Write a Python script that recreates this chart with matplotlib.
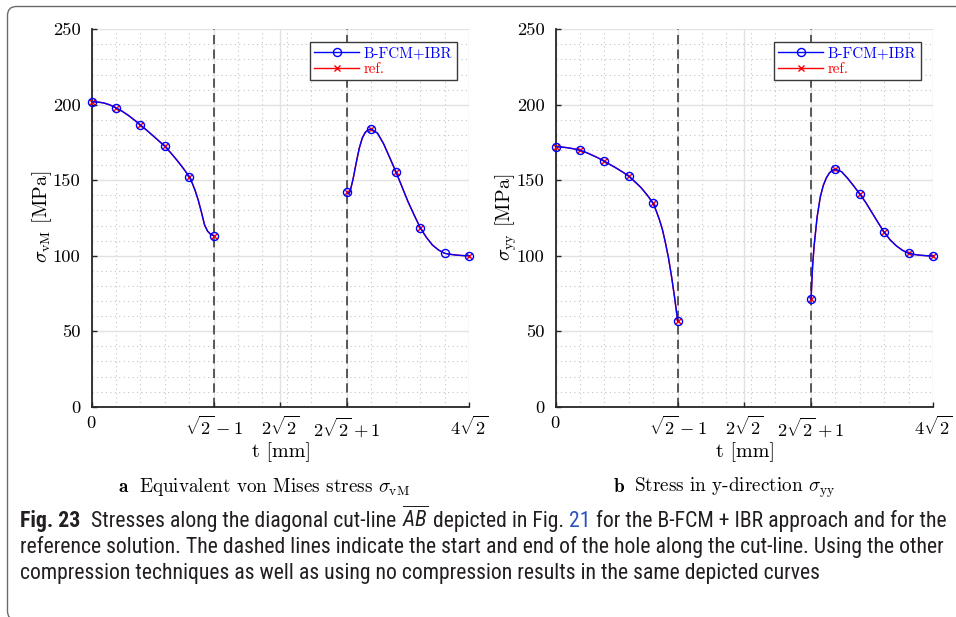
import numpy as np
import matplotlib
matplotlib.use("Agg")
import matplotlib.pyplot as plt
from matplotlib.lines import Line2D
from matplotlib.patches import FancyBboxPatch

CAP_FONT = ["Roboto Condensed", "Liberation Sans Narrow", "Lato", "DejaVu Sans"]

plt.rcParams.update({
    "font.family": "serif",
    "font.serif": ["cmr10"],
    "mathtext.fontset": "cm",
    "axes.unicode_minus": False,
    "mathtext.it": "Roboto Condensed:italic",
    "mathtext.rm": "Roboto Condensed",
    "mathtext.bf": "Roboto Condensed:bold",
    "mathtext.sf": "Roboto Condensed",
})

# ---- geometry of the cut-line (hole between T_START and T_END) ----
T_START = 2 * np.sqrt(2) - 1
T_END = 2 * np.sqrt(2) + 1
T_MAX = 4 * np.sqrt(2)
H_STEP = T_START / 5          # spacing of the evaluation points (markers)

# sample positions, in units of H_STEP, measured from the start of each segment
s_vm_left = [0, .25, .5, .75, 1, 1.25, 1.5, 1.75, 2, 2.25, 2.5, 2.75, 3, 3.25, 3.5, 3.75, 4,
             4.125, 4.25, 4.375, 4.5, 4.625, 4.75, 4.875, 5]
s_vm_right = [0, .0625, .125, .25, .375, .5, .625, .75, .875, 1, 1.25, 1.5, 1.75, 2, 2.25,
              2.5, 2.75, 3, 3.25, 3.5, 3.75, 4, 4.25, 4.5, 4.75, 5]
s_yy_left = s_vm_left
s_yy_right = s_vm_right

# von Mises stress [MPa]
svm_left = [202.0, 201.8, 201.2, 199.9, 197.9, 195.7, 193.0, 189.9, 186.6, 183.2,
            179.7, 176.1, 172.5, 168.0, 163.2, 158.0, 152.4,
            148.0, 142.8, 136.4, 128.8, 120.5, 116.3, 114.2, 113.3]
svm_right = [142.4, 141.0, 142.6, 151.0, 161.5, 171.2, 178.0, 181.8, 183.5, 183.8,
             181.2, 174.1, 165.0, 155.7, 145.8, 135.8, 127.0, 118.6, 112.2, 107.1,
             103.8, 101.6, 100.9, 100.4, 100.1, 100.0]

# stress in y-direction [MPa]
syy_left = [172.2, 172.0, 171.5, 170.8, 169.8, 168.4, 166.6, 164.7, 162.5, 160.2,
            157.9, 155.4, 152.6, 149.0, 145.1, 140.2, 134.7,
            129.6, 124.0, 117.4, 108.5, 98.5, 86.2, 72.3, 57.0]
syy_right = [71.3, 93.0, 106.5, 125.8, 138.6, 146.5, 151.5, 154.8, 156.6, 157.2,
             155.7, 151.3, 146.2, 140.9, 135.1, 128.5, 121.9, 115.5, 110.4, 106.5,
             103.6, 101.6, 100.8, 100.3, 100.0, 99.8]

x_ticks = [0.0, T_START, 2 * np.sqrt(2), T_END, T_MAX]
x_tick_labels = [r"$0$", r"$\sqrt{2}-1$", r"$2\sqrt{2}$", r"$2\sqrt{2}+1$", r"$4\sqrt{2}$"]
y_ticks = [0, 50, 100, 150, 200, 250]
series_labels = ["B-FCM+IBR", "ref."]

W, H = 956, 617
fig = plt.figure(figsize=(W / 100, H / 100), dpi=100)
fig.patch.set_facecolor("white")


def fx(x):
    return x / W


def fy(y):
    return 1 - y / H


BLUE = "#0000ff"
RED = "#ff0000"


def panel(left_px, segments, ylabel, sub_bold, sub_text, sub_x):
    ax = fig.add_axes([fx(left_px), fy(406.7), 377.3 / W, 377.4 / H])
    ax.set_xlim(0, T_MAX)
    ax.set_ylim(0, 250)

    minor_x = [k * H_STEP for k in range(1, 5)] + \
        [T_START + k * H_STEP for k in range(1, 5)] + \
        [T_END + k * H_STEP for k in range(1, 5)]
    ax.set_xticks(x_ticks, x_tick_labels)
    ax.set_xticks(minor_x, minor=True)
    ax.set_yticks(y_ticks)
    ax.set_yticks(np.arange(0, 251, 10), minor=True)
    ax.grid(which="major", color="#e2e2e2", lw=1.0, ls="-", zorder=0)
    ax.grid(which="minor", color="#c4c4c4", lw=0.8, ls=(0, (1, 3)), zorder=0)
    ax.set_axisbelow(True)

    for s in ("top", "right"):
        ax.spines[s].set_visible(False)
    for s in ("left", "bottom"):
        ax.spines[s].set_color("#262626")
        ax.spines[s].set_linewidth(1.3)
    ax.tick_params(which="major", direction="in", length=3.5, width=1.0,
                   labelsize=13.3, color="#262626")
    ax.tick_params(axis="x", which="major", pad=6)
    ax.tick_params(axis="y", which="major", pad=8)
    ax.tick_params(which="minor", length=0)

    for tv in (T_START, T_END):
        ax.axvline(tv, color="#303030", lw=1.1, ls=(0, (6, 3.5)), zorder=2)

    for t0, s, v, skip in segments:
        t = t0 + np.asarray(s) * H_STEP
        marks = [i for i, si in enumerate(s) if float(si).is_integer()]
        ref_marks = [i for i in marks if s[i] not in skip]
        ax.plot(t, v, color=RED, lw=1.0, marker="x", ms=4.2, mew=1.0,
                markevery=ref_marks, zorder=3, clip_on=False)
        ax.plot(t, v, color=BLUE, lw=1.0, marker="o", ms=5.8, mew=1.0,
                mfc="none", markevery=marks, zorder=4, clip_on=False)

    handles = [
        Line2D([], [], color=BLUE, lw=1.0, marker="o", ms=5.8, mfc="none", mew=1.0),
        Line2D([], [], color=RED, lw=1.0, marker="x", ms=4.2, mew=1.0),
    ]
    leg = ax.legend(handles, series_labels, loc="upper right",
                    bbox_to_anchor=(0.968, 0.967), borderaxespad=0,
                    fancybox=False, edgecolor="#3a3a3a", framealpha=1,
                    fontsize=10.8, handlelength=3.0, handletextpad=0.3,
                    borderpad=0.3, labelspacing=0.15, labelcolor="linecolor")
    leg.get_frame().set_linewidth(1.0)

    cx = left_px + 377.3 / 2
    fig.text(fx(left_px - 50), fy(217), ylabel, rotation=90, ha="center",
             va="center", fontsize=14.5)
    fig.text(fx(cx + 1), fy(452), "t [mm]", ha="center", va="center", fontsize=14.5)
    fig.text(fx(sub_x), fy(492), sub_bold, ha="left", va="baseline",
             fontsize=13.8, math_fontfamily="cm")
    fig.text(fx(sub_x + 21), fy(492), sub_text, ha="left", va="baseline",
             fontsize=13.8)
    return ax


panel(91.7,
      [(0.0, s_vm_left, svm_left, []), (T_END, s_vm_right, svm_right, [4])],
      r"$\sigma_{\rm vM}$ [MPa]", r"$\mathbf{a}$",
      r"Equivalent von Mises stress $\sigma_{\rm vM}$", 118)
panel(555.7,
      [(0.0, s_yy_left, syy_left, []), (T_END, s_yy_right, syy_right, [])],
      r"$\sigma_{\rm yy}$ [MPa]", r"$\mathbf{b}$",
      r"Stress in y-direction $\sigma_{\rm yy}$", 613)

# ---- frame around figure and caption ----
frame = FancyBboxPatch((7.5, -3), 1100, H - 6.5 + 3, boxstyle="round,pad=0,rounding_size=9",
                       transform=None, fill=False, ec="#6b6b6b", lw=1.0, zorder=10)
fig.patches.append(frame)

CAP_COLOR = "#231f20"
LINK = "#2a52be"

caption_lines = [
    [("Fig. 23", 0, {"weight": "bold"}),
     ("Stresses along the diagonal cut-line", 2.2, {}),
     (r"$\overline{AB}$", 1, {"math_fontfamily": "custom"}),
     ("depicted in Fig.", 1, {}),
     ("21", 1, {"color": LINK}),
     ("for the B-FCM + IBR approach and for the", 1, {})],
    [("reference solution. The dashed lines indicate the start and end of the hole "
      "along the cut-line. Using the other", 0, {})],
    [("compression techniques as well as using no compression results in the same "
      "depicted curves", 0, {})],
]
baselines = [527, 553, 579]
renderer = fig.canvas.get_renderer()


def build(pieces, x0, yb, size):
    probe1 = fig.text(0, 0, "a a", fontsize=size, family=CAP_FONT)
    probe2 = fig.text(0, 0, "aa", fontsize=size, family=CAP_FONT)
    sp = (probe1.get_window_extent(renderer).width -
          probe2.get_window_extent(renderer).width)
    probe1.remove()
    probe2.remove()
    x = x0
    made = []
    for s, gap, kw in pieces:
        x += gap * sp
        opts = dict(color=CAP_COLOR)
        opts.update(kw)
        t = fig.text(fx(x), fy(yb), s, fontsize=size, family=CAP_FONT,
                     ha="left", va="baseline", **opts)
        x += t.get_window_extent(renderer).width
        made.append(t)
    return made, x - x0


size0 = 10.0
tmp, wid = build(caption_lines[0], 20, baselines[0], size0)
for t in tmp:
    t.remove()
cap_size = size0 * 923.0 / wid
for line, yb in zip(caption_lines, baselines):
    build(line, 20, yb, cap_size)

fig.savefig("out.png", dpi=100, facecolor="white")
